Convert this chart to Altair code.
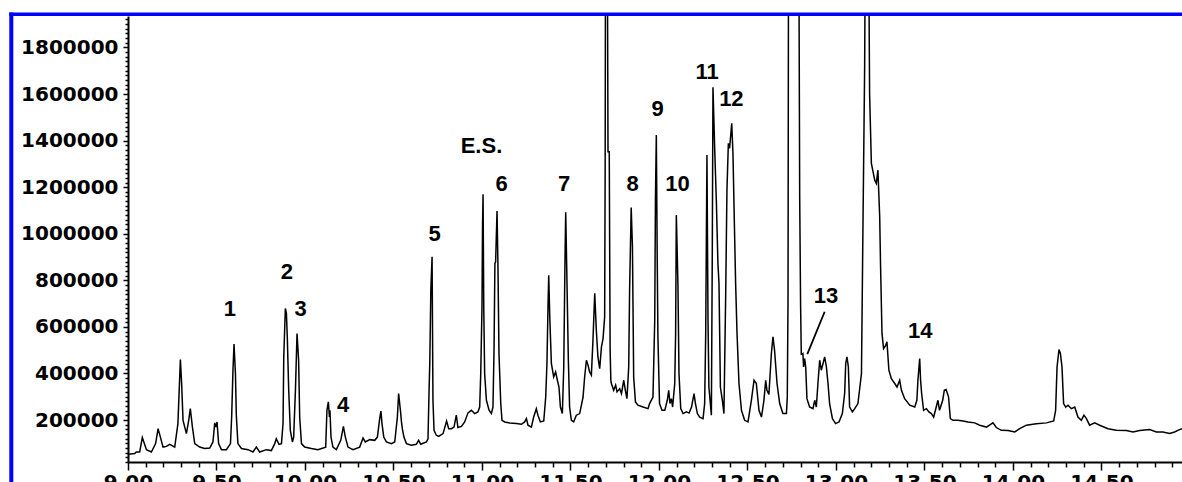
import altair as alt
import pandas as pd

# Retention time (min) and detector response of the chromatogram trace
times = [
    9.000, 9.038, 9.047, 9.066, 9.081, 9.104, 9.132, 9.156, 9.170, 9.183, 9.198, 9.217, 9.236, 9.264,
    9.282, 9.296, 9.303, 9.311, 9.330, 9.343, 9.352, 9.364, 9.377, 9.405, 9.433, 9.462, 9.480, 9.490,
    9.497, 9.503, 9.512, 9.528, 9.556, 9.579, 9.586, 9.593, 9.599, 9.607, 9.612, 9.621, 9.641, 9.678,
    9.706, 9.725, 9.744, 9.782, 9.810, 9.829, 9.838, 9.853, 9.867, 9.876, 9.880, 9.889, 9.895, 9.900,
    9.908, 9.917, 9.929, 9.936, 9.946, 9.955, 9.964, 9.970, 9.980, 9.998, 10.036, 10.073, 10.102, 10.117,
    10.124, 10.132, 10.138, 10.141, 10.147, 10.158, 10.177, 10.202, 10.217, 10.228, 10.243, 10.271, 10.309,
    10.328, 10.341, 10.366, 10.394, 10.409, 10.422, 10.429, 10.435, 10.445, 10.460, 10.488, 10.507, 10.522,
    10.529, 10.535, 10.541, 10.545, 10.550, 10.559, 10.573, 10.601, 10.629, 10.642, 10.654, 10.686, 10.695,
    10.701, 10.705, 10.711, 10.718, 10.723, 10.729, 10.742, 10.755, 10.780, 10.800, 10.812, 10.827, 10.842,
    10.855, 10.864, 10.884, 10.902, 10.921, 10.940, 10.959, 10.977, 10.987, 10.993, 11.000, 11.003, 11.006,
    11.010, 11.015, 11.025, 11.040, 11.053, 11.062, 11.068, 11.073, 11.077, 11.085, 11.090, 11.096, 11.106,
    11.113, 11.128, 11.157, 11.194, 11.223, 11.241, 11.251, 11.260, 11.279, 11.292, 11.307, 11.316, 11.330,
    11.349, 11.360, 11.367, 11.373, 11.377, 11.383, 11.392, 11.405, 11.416, 11.426, 11.435, 11.443, 11.454,
    11.462, 11.469, 11.473, 11.480, 11.488, 11.495, 11.505, 11.518, 11.533, 11.552, 11.571, 11.580, 11.590,
    11.599, 11.608, 11.618, 11.627, 11.637, 11.646, 11.655, 11.665, 11.675, 11.684, 11.693, 11.696, 11.698,
    11.708, 11.712, 11.719, 11.724, 11.728, 11.731, 11.744, 11.755, 11.763, 11.778, 11.788, 11.801, 11.810,
    11.819, 11.829, 11.834, 11.843, 11.850, 11.857, 11.867, 11.881, 11.910, 11.938, 11.947, 11.966, 11.976,
    11.980, 11.985, 11.990, 11.994, 12.003, 12.017, 12.033, 12.047, 12.055, 12.062, 12.070, 12.077, 12.089,
    12.094, 12.098, 12.107, 12.113, 12.123, 12.136, 12.155, 12.170, 12.184, 12.198, 12.206, 12.217, 12.230,
    12.249, 12.258, 12.264, 12.271, 12.277, 12.282, 12.296, 12.301, 12.305, 12.315, 12.324, 12.333, 12.339,
    12.347, 12.358, 12.367, 12.377, 12.384, 12.392, 12.399, 12.411, 12.418, 12.424, 12.433, 12.441, 12.452,
    12.466, 12.484, 12.503, 12.522, 12.537, 12.550, 12.565, 12.579, 12.593, 12.603, 12.610, 12.621, 12.635,
    12.644, 12.653, 12.667, 12.682, 12.700, 12.720, 12.725, 12.729, 12.732, 12.790, 12.795, 12.800, 12.804,
    12.813, 12.817, 12.823, 12.829, 12.836, 12.851, 12.870, 12.880, 12.889, 12.898, 12.908, 12.917, 12.927,
    12.936, 12.946, 12.955, 12.964, 12.980, 12.998, 13.017, 13.036, 13.049, 13.055, 13.062, 13.070, 13.077,
    13.093, 13.106, 13.124, 13.144, 13.153, 13.162, 13.166, 13.184, 13.190, 13.200, 13.219, 13.228, 13.237,
    13.247, 13.252, 13.260, 13.269, 13.281, 13.288, 13.299, 13.313, 13.332, 13.345, 13.360, 13.370, 13.388,
    13.417, 13.445, 13.457, 13.463, 13.473, 13.478, 13.484, 13.495, 13.511, 13.525, 13.539, 13.552, 13.576,
    13.585, 13.603, 13.612, 13.622, 13.636, 13.646, 13.661, 13.689, 13.718, 13.746, 13.784, 13.812, 13.850,
    13.887, 13.906, 13.934, 13.972, 14.010, 14.038, 14.076, 14.132, 14.189, 14.230, 14.241, 14.249, 14.260,
    14.268, 14.277, 14.286, 14.298, 14.311, 14.330, 14.349, 14.367, 14.386, 14.401, 14.415, 14.433, 14.462,
    14.490, 14.537, 14.584, 14.641, 14.678, 14.716, 14.772, 14.810, 14.847, 14.885, 14.913, 14.941, 14.955,
]
intensity = [
    53000, 56000, 63000, 63000, 125000, 73000, 63000, 99000, 163000, 127000, 84000, 87000, 96000, 84000,
    185000, 460000, 357000, 199000, 142000, 199000, 249000, 170000, 99000, 84000, 78000, 80000, 106000, 188000,
    170000, 192000, 99000, 73000, 73000, 99000, 221000, 414000, 526000, 400000, 221000, 99000, 78000, 73000,
    63000, 84000, 63000, 73000, 69000, 99000, 120000, 96000, 99000, 185000, 471000, 679000, 658000, 557000,
    328000, 156000, 106000, 127000, 328000, 572000, 457000, 213000, 99000, 84000, 78000, 73000, 80000, 84000,
    242000, 278000, 213000, 242000, 127000, 84000, 73000, 113000, 173000, 127000, 84000, 73000, 84000,
    123000, 106000, 116000, 113000, 127000, 206000, 239000, 185000, 127000, 106000, 99000, 106000, 213000,
    314000, 271000, 228000, 192000, 163000, 127000, 99000, 92000, 96000, 113000, 96000, 106000, 120000,
    328000, 443000, 758000, 901000, 285000, 156000, 135000, 130000, 142000, 196000, 163000, 163000, 170000,
    221000, 168000, 173000, 192000, 231000, 242000, 228000, 235000, 256000, 400000, 686000, 1030000, 1170000,
    686000, 400000, 285000, 242000, 228000, 256000, 500000, 873000, 879000, 1098000, 873000, 486000, 271000,
    199000, 192000, 187000, 185000, 182000, 192000, 206000, 178000, 170000, 213000, 249000, 221000, 192000,
    196000, 299000, 443000, 686000, 822000, 643000, 443000, 385000, 407000, 371000, 342000, 256000, 228000,
    428000, 887000, 1092000, 801000, 457000, 256000, 199000, 192000, 221000, 228000, 299000, 385000, 457000,
    436000, 407000, 393000, 543000, 744000, 586000, 471000, 421000, 514000, 550000, 643000, 1300000, 2300000,
    2300000, 1352000, 1352000, 500000, 371000, 357000, 328000, 350000, 321000, 335000, 314000, 371000, 328000,
    292000, 428000, 758000, 1113000, 944000, 385000, 278000, 264000, 256000, 249000, 271000, 299000, 629000,
    1145000, 1424000, 900000, 557000, 271000, 242000, 242000, 285000, 328000, 271000, 292000, 256000, 357000,
    572000, 1080000, 787000, 400000, 249000, 228000, 235000, 230000, 256000, 314000, 271000, 228000, 213000,
    206000, 271000, 572000, 1338000, 629000, 342000, 221000, 900000, 1629000, 1359000, 1145000, 873000, 787000,
    342000, 285000, 228000, 744000, 1188000, 1388000, 1367000, 1474000, 1345000, 1116000, 787000, 572000, 357000,
    242000, 199000, 192000, 285000, 371000, 357000, 242000, 213000, 285000, 371000, 328000, 310000, 486000,
    557000, 500000, 357000, 271000, 228000, 228000, 299000, 707000, 2300000, 2300000, 1159000, 700000, 483000,
    486000, 428000, 464000, 428000, 292000, 256000, 249000, 285000, 256000, 357000, 457000, 414000, 443000,
    471000, 428000, 357000, 271000, 206000, 185000, 192000, 228000, 314000, 443000, 471000, 428000, 256000,
    235000, 249000, 271000, 400000, 1073000, 1717000, 2300000, 2300000, 1600000, 1302000, 1230000, 1216000, 1273000,
    1073000, 858000, 572000, 507000, 521000, 536000, 414000, 378000, 357000, 342000, 371000, 328000, 292000,
    264000, 256000, 285000, 371000, 464000, 371000, 314000, 242000, 249000, 235000, 228000, 213000, 285000,
    242000, 285000, 328000, 331000, 300000, 206000, 199000, 199000, 196000, 192000, 188000, 178000, 170000,
    188000, 168000, 156000, 155000, 149000, 163000, 178000, 184000, 188000, 196000, 242000, 428000, 503000,
    486000, 428000, 271000, 256000, 264000, 249000, 256000, 213000, 199000, 221000, 206000, 178000, 188000,
    178000, 163000, 156000, 155000, 149000, 155000, 159000, 149000, 149000, 142000, 149000, 159000, 163000,
]

# Peak annotations
peak_labels = ["1", "2", "3", "4", "5", "E.S.", "6", "7", "8", "9", "10", "11", "12", "13", "14"]
label_time = [9.575, 9.897, 9.976, 10.215, 10.733, 10.997, 11.111, 11.464, 11.851, 11.992,
              12.105, 12.272, 12.409, 12.944, 13.476]
label_int = [676000, 836000, 676000, 264000, 998000, 1376000, 1213000, 1213000, 1213000, 1535000,
             1213000, 1696000, 1578000, 733000, 582000]

# Leader line from label 13 to its peak
leader_start = [12.936, 665000]
leader_end = [12.838, 483000]

x_ticks = [round(9.0 + 0.1 * i, 1) for i in range(60)]
y_ticks = [20000 * i for i in range(1, 97)]

trace = pd.DataFrame({"t": times, "i": intensity})
labels = pd.DataFrame({"t": label_time, "i": label_int, "label": peak_labels})
leader = pd.DataFrame({"t": [leader_start[0]], "i": [leader_start[1]],
                       "t2": [leader_end[0]], "i2": [leader_end[1]]})

is_major_x = "abs(datum.value * 2 - round(datum.value * 2)) < 0.001"
is_major_y = "datum.value % 200000 == 0"

x_enc = alt.X(
    "t:Q",
    scale=alt.Scale(domain=[9.0, 14.955], nice=False, zero=False),
    axis=alt.Axis(
        values=x_ticks,
        title=None,
        grid=False,
        tickSize={"condition": {"test": is_major_x, "value": 8}, "value": 5},
        labelExpr=is_major_x + " ? format(datum.value, '.2f') : ''",
        labelOverlap=False,
        labelFlush=False,
        labelBound=False,
        labelPadding=2,
        labelFont="DejaVu Sans",
        labelFontWeight="bold",
        labelFontSize=20,
        labelColor="black",
    ),
)
y_enc = alt.Y(
    "i:Q",
    scale=alt.Scale(domain=[20000, 1935000], nice=False, zero=False),
    axis=alt.Axis(
        values=y_ticks,
        title=None,
        grid=False,
        tickSize={"condition": {"test": is_major_y, "value": 5}, "value": 3},
        labelExpr=is_major_y + " ? format(datum.value, 'd') : ''",
        labelOverlap=False,
        labelFlush=False,
        labelBound=False,
        labelPadding=5,
        labelFont="DejaVu Sans",
        labelFontWeight="bold",
        labelFontSize=20,
        labelColor="black",
    ),
)

line = alt.Chart(trace).mark_line(color="black", strokeWidth=1.5, clip=True).encode(
    x=x_enc, y=y_enc, order="t:Q"
)

text = alt.Chart(labels).mark_text(
    font="Liberation Sans", fontSize=22, fontWeight="bold", color="black",
    align="center", baseline="middle"
).encode(x=x_enc, y=y_enc, text="label:N")

lead = alt.Chart(leader).mark_rule(color="black", strokeWidth=1.8).encode(
    x=x_enc, y=y_enc, x2="t2:Q", y2="i2:Q"
)

one = pd.DataFrame({"a": [0]})
blue_left = alt.Chart(one).mark_rule(color="#0000ff", strokeWidth=4).encode(
    x=alt.value(-116.7), y=alt.value(-3.5), y2=alt.value(480)
)
blue_top = alt.Chart(one).mark_rule(color="#0000ff", strokeWidth=3.5).encode(
    x=alt.value(-118.7), x2=alt.value(1060), y=alt.value(-1.8)
)

chart = alt.layer(line, text, lead, blue_left, blue_top).properties(
    width=1054,
    height=446,
    autosize=alt.AutoSizeParams(type="none"),
    padding={"left": 128, "top": 16, "right": 0, "bottom": 20},
    background="white",
).configure_view(stroke=None).configure_axis(
    domainColor="black",
    domainWidth=2,
    tickColor="black",
    tickWidth=1.5,
)

chart.save("out.html", embed_options={"renderer": "svg", "actions": False})
